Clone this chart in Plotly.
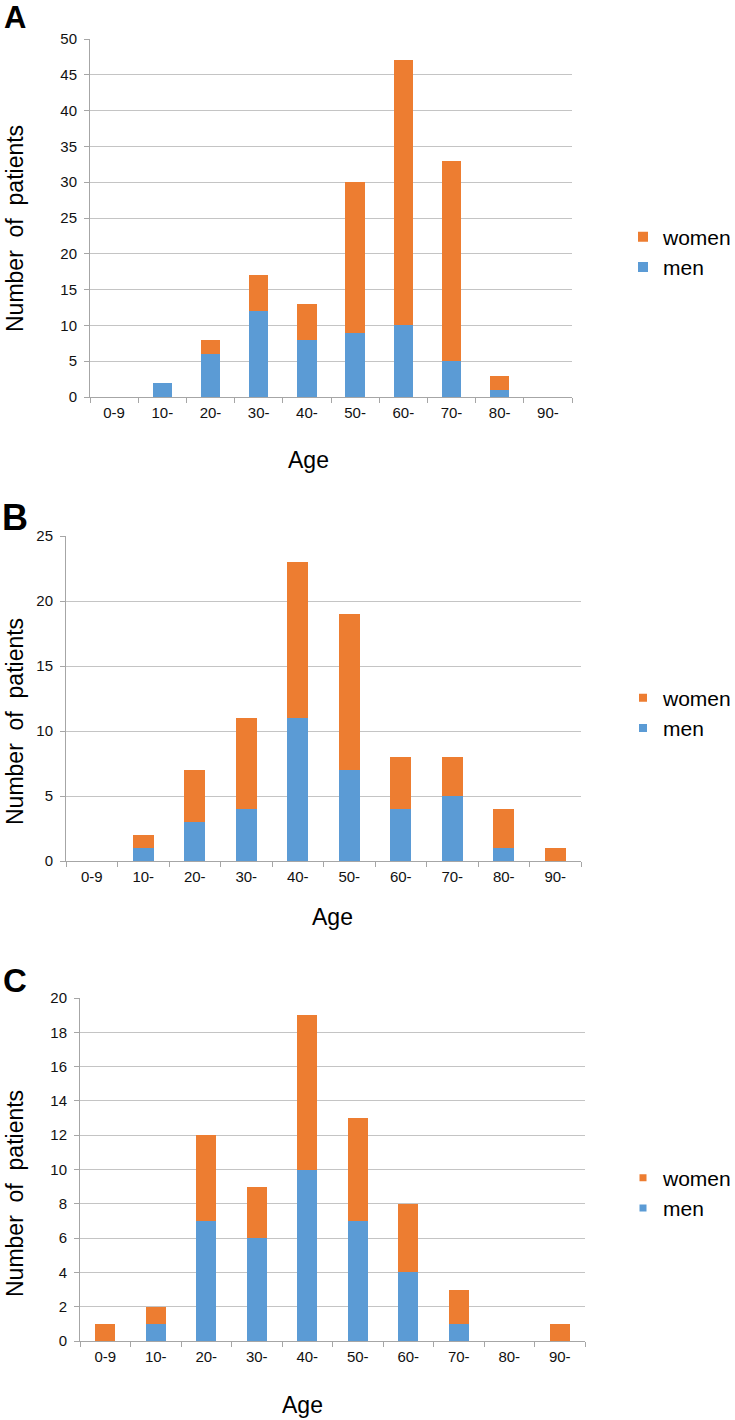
import plotly.graph_objects as go

age_groups = ["0-9", "10-", "20-", "30-", "40-", "50-", "60-", "70-", "80-", "90-"]

a_men = [0, 2, 6, 12, 8, 9, 10, 5, 1, 0]
a_women = [0, 0, 2, 5, 5, 21, 37, 28, 2, 0]

b_men = [0, 1, 3, 4, 11, 7, 4, 5, 1, 0]
b_women = [0, 1, 4, 7, 12, 12, 4, 3, 3, 1]

c_men = [0, 1, 7, 6, 10, 7, 4, 1, 0, 0]
c_women = [1, 1, 5, 3, 9, 6, 4, 2, 0, 1]

a_yticks = [0, 5, 10, 15, 20, 25, 30, 35, 40, 45, 50]
b_yticks = [0, 5, 10, 15, 20, 25]
c_yticks = [0, 2, 4, 6, 8, 10, 12, 14, 16, 18, 20]

BLUE = "#5B9BD5"
ORANGE = "#ED7D31"
FONT = "Liberation Sans, Arial, sans-serif"
W, H = 735, 1420
GRID = "#C4C4C4"

def px(x):
    return x / W

def py(y):
    return 1 - y / H

panels = [
    # suffix, men, women, yticks, ymax, xdom, ydom, legend name, legend y, marker size
    ("", a_men, a_women, a_yticks, 50, (90, 572), (397, 39), "legend", 252, 10),
    ("2", b_men, b_women, b_yticks, 25, (66, 581), (861, 536), "legend2", 713, 8),
    ("3", c_men, c_women, c_yticks, 20, (80, 585), (1341, 998), "legend3", 1193, 7),
]

fig = go.Figure()
layout = dict(
    template="none",
    width=W, height=H,
    margin=dict(l=0, r=0, t=0, b=0, pad=0, autoexpand=False),
    paper_bgcolor="white", plot_bgcolor="white",
    barmode="stack", bargap=0.6,
    font=dict(family=FONT, color="#111111"),
    showlegend=True,
)

for suf, men, women, yt, ymax, xd, yd, lg, ly, msz in panels:
    xa = "x" + suf
    ya = "y" + suf
    fig.add_trace(go.Bar(x=age_groups, y=men, marker=dict(color=BLUE, line=dict(width=0)),
                         xaxis=xa, yaxis=ya, showlegend=False, name="men"))
    fig.add_trace(go.Bar(x=age_groups, y=women, marker=dict(color=ORANGE, line=dict(width=0)),
                         xaxis=xa, yaxis=ya, showlegend=False, name="women"))
    # legend-only entries
    fig.add_trace(go.Scatter(x=[None], y=[None], mode="markers", name="men",
                             marker=dict(symbol="square", size=msz, color=BLUE),
                             xaxis=xa, yaxis=ya, legend=lg))
    fig.add_trace(go.Scatter(x=[None], y=[None], mode="markers", name="women",
                             marker=dict(symbol="square", size=msz, color=ORANGE),
                             xaxis=xa, yaxis=ya, legend=lg))
    layout["xaxis" + suf] = dict(
        domain=[px(xd[0]), px(xd[1])], anchor=ya, automargin=False,
        type="category", categoryorder="array", categoryarray=age_groups,
        tickson="boundaries", ticks="outside", ticklen=5, tickcolor="#A6A6A6",
        showline=True, linecolor="#A6A6A6", linewidth=1,
        showgrid=False, zeroline=False, tickfont=dict(size=15, color="#111111"),
        ticklabelstandoff=2, fixedrange=True,
    )
    layout["yaxis" + suf] = dict(
        domain=[py(yd[0]), py(yd[1])], anchor=xa, automargin=False,
        range=[0, ymax], tickvals=yt, ticks="outside", ticklen=5,
        tickcolor="#A6A6A6", showline=True, linecolor="#A6A6A6", linewidth=1,
        showgrid=True, gridcolor=GRID, gridwidth=1, zeroline=False,
        tickfont=dict(size=15, color="#111111"), ticklabelstandoff=4,
        fixedrange=True,
    )
    layout[lg] = dict(
        x=px(623), xanchor="left", y=py(ly), yanchor="middle",
        traceorder="reversed", font=dict(size=21, color="#000000", family=FONT),
        bgcolor="rgba(0,0,0,0)", borderwidth=0, tracegroupgap=0, itemwidth=30,
    )

ann = []
# panel letters
for txt, x, y, s in [("A", 15, 18, 31), ("B", 15, 517, 36), ("C", 15, 980, 33)]:
    ann.append(dict(text="<b>" + txt + "</b>", x=px(x), y=py(y), xref="paper", yref="paper",
                    showarrow=False, font=dict(size=s, color="#000000", family=FONT),
                    xanchor="center", yanchor="middle"))
# y-axis titles
for y in [229, 722, 1194]:
    ann.append(dict(text="Number\u00a0\u00a0of\u00a0\u00a0patients", x=px(15), y=py(y),
                    xref="paper", yref="paper", showarrow=False, textangle=-90,
                    font=dict(size=23, color="#000000", family=FONT),
                    xanchor="center", yanchor="middle"))
# x-axis titles
for x, y in [(308, 460), (332, 917), (302, 1405)]:
    ann.append(dict(text="Age", x=px(x), y=py(y), xref="paper", yref="paper",
                    showarrow=False, font=dict(size=23, color="#000000", family=FONT),
                    xanchor="center", yanchor="middle"))
layout["annotations"] = ann

fig.update_layout(**layout)
fig.write_html(
    "out.html",
    config={"displayModeBar": False},
    post_script="document.body.style.margin='0px';document.body.style.overflow='hidden';",
)
